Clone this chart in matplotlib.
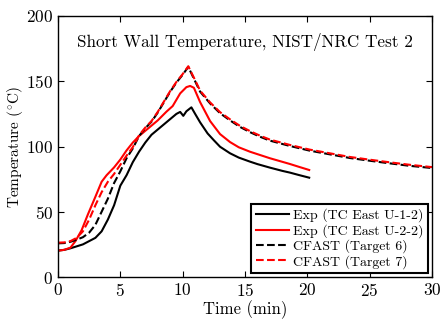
import matplotlib
matplotlib.use("Agg")
import matplotlib.pyplot as plt

plt.rcParams['font.family'] = ['cmr10', 'DejaVu Serif']
plt.rcParams['mathtext.fontset'] = 'cm'
plt.rcParams['axes.formatter.use_mathtext'] = True
plt.rcParams['axes.unicode_minus'] = False

# Exp (TC East U-1-2)
t_exp1 = [0, 0.5, 1, 1.5, 2, 2.5, 3, 3.5, 4, 4.5, 5, 5.5, 6, 6.5, 7, 7.5, 8, 8.5, 9, 9.5, 9.8,
          10.05, 10.3, 10.7, 11.0, 11.4, 12.0, 12.5, 13.0, 13.8, 14.5, 15.4, 16.0, 17.0, 18.0,
          18.6, 19.3, 20.15]
T_exp1 = [20.2, 20.8, 22, 23.5, 25, 27.5, 30, 35, 44, 55, 70, 78, 88, 96, 103, 109, 113, 117,
          121, 125, 126.5, 123.5, 127, 130, 125, 118.5, 110, 104.8, 99.8, 94.8, 91.5, 88.4,
          86.5, 83.8, 81.3, 80, 78.2, 76.1]

# Exp (TC East U-2-2)
t_exp2 = [0, 0.5, 1, 1.4, 1.9, 2.4, 3.0, 3.5, 3.9, 4.5, 5, 5.5, 6, 6.5, 7, 7.5, 8, 8.7, 9.2,
          9.8, 10.3, 10.6, 10.9, 11.4, 12.2, 13.0, 13.8, 14.5, 15.4, 16.2, 17.0, 17.8, 18.6,
          19.4, 20.15]
T_exp2 = [20.2, 20.8, 22.5, 27.5, 36, 48, 61.5, 73, 78, 84, 90, 97, 103, 108, 112, 116, 120,
          126.7, 131, 140.7, 145.5, 146.4, 145, 134, 119.5, 109.5, 103.4, 99.4, 96, 93.5, 91,
          88.8, 86.6, 84.2, 82]

# CFAST (Target 6)
t_cf6 = [0, 0.5, 1, 1.5, 2, 2.5, 3, 3.5, 4, 4.5, 5, 5.5, 6, 6.5, 7, 7.5, 8, 8.5, 9, 9.5, 10,
         10.45, 11, 11.4, 12.2, 13, 13.8, 14.6, 15.4, 16.2, 17, 18.6, 20.2, 21.8, 23.4, 25,
         26.6, 28.2, 30]
T_cf6 = [25.8, 26, 27, 28.6, 30.5, 34, 40, 50, 60, 72, 81, 91, 98.5, 108, 114, 119, 126, 134,
         142, 149, 155, 161, 150, 142, 133, 125.5, 120, 115, 111, 107.5, 104.5, 100.4, 96.8, 94,
         91.2, 89.1, 87.1, 85.2, 83.5]

# CFAST (Target 7)
t_cf7 = [0, 0.5, 1, 1.5, 2, 2.5, 3, 3.5, 4, 4.5, 5, 5.5, 6, 6.5, 7, 7.5, 8, 8.5, 9, 9.5, 10,
         10.45, 11, 11.4, 12.2, 13, 13.8, 14.6, 15.4, 16.2, 17, 18.6, 20.2, 21.8, 23.4, 25,
         26.6, 28.2, 30]
T_cf7 = [26.3, 26.5, 27.5, 30, 35, 44, 55, 65, 73, 79, 86, 93, 99.5, 108.5, 114.5, 119.5, 126.5,
         134.5, 142.5, 149.5, 155.5, 161.5, 150.8, 142.8, 133.8, 126.3, 120.8, 115.8, 111.8,
         108.3, 105.3, 101.2, 97.6, 94.8, 92, 89.9, 87.9, 86, 84.2]

labels = ['Exp (TC East U-1-2)', 'Exp (TC East U-2-2)', 'CFAST (Target 6)', 'CFAST (Target 7)']

fig = plt.figure(figsize=(4.41, 3.2), dpi=100)
ax = fig.add_axes([58/441, 43/320, 374/441, 261/320])

lw = 1.5
ax.plot(t_exp1, T_exp1, color='black', lw=lw, ls='-', label=labels[0])
ax.plot(t_exp2, T_exp2, color='red', lw=lw, ls='-', label=labels[1])
ax.plot(t_cf6, T_cf6, color='black', lw=lw, ls='--', label=labels[2])
ax.plot(t_cf7, T_cf7, color='red', lw=lw, ls='--', label=labels[3])

ax.set_xlim(0, 30)
ax.set_ylim(0, 200)
ax.set_xticks([0, 5, 10, 15, 20, 25, 30])
ax.set_yticks([0, 50, 100, 150, 200])
ax.tick_params(direction='in', top=True, right=True, labelsize=12.5, length=4, width=0.8)
for s in ax.spines.values():
    s.set_linewidth(1.0)

ax.set_xlabel('Time (min)', fontsize=12, labelpad=1)
ax.set_ylabel(r'Temperature ($^{\circ}$C)', fontsize=11)
ax.yaxis.set_label_coords(-0.088, 0.5)

ax.text(0.5, 0.90, 'Short Wall Temperature, NIST/NRC Test 2', transform=ax.transAxes,
        fontsize=12.3, ha='center', va='center')

leg = ax.legend(loc='lower right', fontsize=10, frameon=True, fancybox=False,
                handlelength=2.4, handletextpad=0.3, labelspacing=0.12,
                borderpad=0.3, borderaxespad=0.3)
leg.get_frame().set_edgecolor('black')
leg.get_frame().set_linewidth(1.5)
leg.get_frame().set_alpha(1)

fig.savefig('out.png', dpi=100)
